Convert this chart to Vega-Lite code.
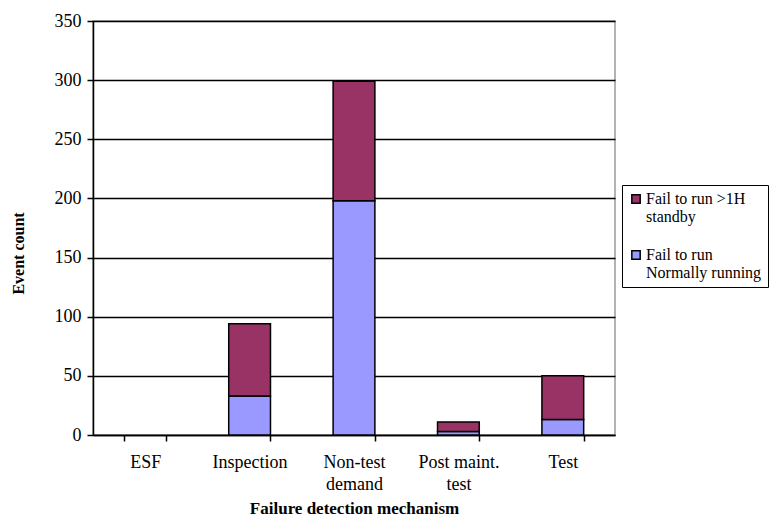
{
  "$schema": "https://vega.github.io/schema/vega-lite/v6.json",
  "autosize": "none",
  "width": 522,
  "height": 414,
  "padding": {"left": 93, "top": 21, "right": 160, "bottom": 86},
  "background": "white",
  "config": {
    "font": "Liberation Serif",
    "view": {"stroke": "#999999", "strokeWidth": 1.5},
    "axis": {
      "labelFont": "Liberation Serif",
      "titleFont": "Liberation Serif",
      "labelColor": "#000000",
      "titleColor": "#000000",
      "domainColor": "#000000",
      "tickColor": "#000000",
      "domainWidth": 1.5,
      "tickWidth": 1.5
    },
    "legend": {"labelFont": "Liberation Serif"}
  },
  "data": {
    "values": [
      {"mechanism": "ESF", "series": "Fail to run Normally running", "count": 0},
      {"mechanism": "ESF", "series": "Fail to run >1H standby", "count": 0},
      {"mechanism": "Inspection", "series": "Fail to run Normally running", "count": 33},
      {"mechanism": "Inspection", "series": "Fail to run >1H standby", "count": 61},
      {"mechanism": "Non-test demand", "series": "Fail to run Normally running", "count": 198},
      {"mechanism": "Non-test demand", "series": "Fail to run >1H standby", "count": 101},
      {"mechanism": "Post maint. test", "series": "Fail to run Normally running", "count": 3},
      {"mechanism": "Post maint. test", "series": "Fail to run >1H standby", "count": 8},
      {"mechanism": "Test", "series": "Fail to run Normally running", "count": 13},
      {"mechanism": "Test", "series": "Fail to run >1H standby", "count": 37}
    ]
  },
  "transform": [{"filter": "datum.count > 0"}],
  "mark": {"type": "bar", "stroke": "#000000", "strokeWidth": 1.5},
  "encoding": {
    "x": {
      "field": "mechanism",
      "type": "nominal",
      "sort": null,
      "scale": {
        "domain": ["ESF", "Inspection", "Non-test demand", "Post maint. test", "Test"],
        "paddingInner": 0.6,
        "paddingOuter": 0.3
      },
      "axis": {
        "title": "Failure detection mechanism",
        "titleFontSize": 17,
        "titleFontWeight": "bold",
        "titleY": 73,
        "titleBaseline": "middle",
        "labelAngle": 0,
        "labelFontSize": 18,
        "labelPadding": 12,
        "labelLineHeight": 22,
        "labelExpr": "datum.label == 'Non-test demand' ? ['Non-test', 'demand'] : datum.label == 'Post maint. test' ? ['Post maint.', 'test'] : datum.label",
        "tickBand": "extent",
        "tickSize": 6
      }
    },
    "y": {
      "field": "count",
      "type": "quantitative",
      "stack": "zero",
      "scale": {"domain": [0, 350]},
      "axis": {
        "title": "Event count",
        "titleFontSize": 16,
        "titleFontWeight": "bold",
        "titleX": -67,
        "titleY": 232,
        "values": [0, 50, 100, 150, 200, 250, 300, 350],
        "labelFontSize": 18,
        "labelPadding": 6,
        "tickSize": 6,
        "grid": true,
        "gridColor": "#000000",
        "gridWidth": 1.5
      }
    },
    "color": {
      "field": "series",
      "type": "nominal",
      "scale": {
        "domain": ["Fail to run >1H standby", "Fail to run Normally running"],
        "range": ["#993366", "#9999FF"]
      },
      "legend": {
        "title": null,
        "orient": "none",
        "legendX": 529,
        "legendY": 164,
        "symbolType": "square",
        "symbolSize": 70,
        "symbolStrokeColor": "#000000",
        "symbolStrokeWidth": 1.5,
        "symbolOpacity": 1,
        "labelFontSize": 16,
        "labelColor": "#000000",
        "labelLimit": 200,
        "labelOffset": 2,
        "labelLineHeight": 17,
        "labelExpr": "datum.label == 'Fail to run >1H standby' ? ['Fail to run >1H', 'standby'] : ['Fail to run', 'Normally running']",
        "rowPadding": 22,
        "padding": 6,
        "strokeColor": "#000000",
        "fillColor": "#ffffff"
      }
    },
    "order": {"field": "series", "sort": "descending"}
  }
}
